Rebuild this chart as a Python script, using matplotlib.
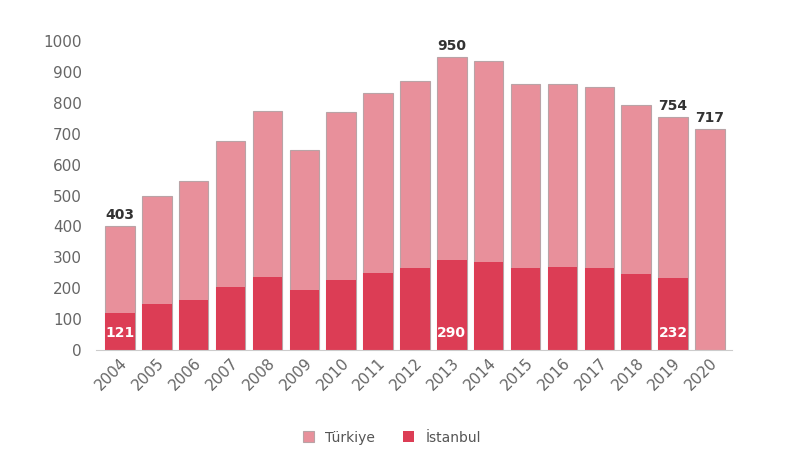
import matplotlib.pyplot as plt

years = [str(y) for y in range(2004, 2021)]
turkiye = [403, 500, 548, 678, 775, 648, 772, 832, 870, 950, 935, 862, 863, 853, 795, 754, 717]
istanbul = [121, 148, 163, 205, 235, 195, 228, 250, 265, 290, 285, 265, 268, 265, 245, 232, 0]

light = '#e8909b'
dark = '#dc3d55'

fig = plt.figure(figsize=(8, 4.63), dpi=100)
ax = fig.add_axes([0.12, 0.244, 0.795, 0.667])
x = range(len(years))
ax.bar(x, turkiye, width=0.8, color=light, edgecolor='#b9a3a6', linewidth=0.8, label='Türkiye')
ax.bar(x, istanbul, width=0.8, color=dark, label='İstanbul')

for i in [0, 9, 15, 16]:
    ax.text(i, turkiye[i] + 12, str(turkiye[i]), ha='center', va='bottom',
            fontsize=10, fontweight='bold', color='#333333')
for i in [0, 9, 15]:
    ax.text(i, 55, str(istanbul[i]), ha='center', va='center',
            fontsize=10, fontweight='bold', color='white')

ax.set_ylim(0, 1000)
ax.set_xlim(-0.65, 16.6)
ax.set_yticks(range(0, 1001, 100))
ax.set_xticks(list(x))
ax.set_xticklabels(years, rotation=45, ha='right', rotation_mode='anchor')
ax.tick_params(axis='both', length=0, labelsize=11, labelcolor='#666666')
ax.tick_params(axis='y', pad=10)
for s in ['top', 'right', 'left']:
    ax.spines[s].set_visible(False)
ax.spines['bottom'].set_color('#cccccc')

fig.legend(loc='center', bbox_to_anchor=(0.49, 0.055), ncol=2, frameon=False,
           fontsize=10, handlelength=0.8, handleheight=0.8, labelcolor='#555555')
fig.savefig('out.png')
